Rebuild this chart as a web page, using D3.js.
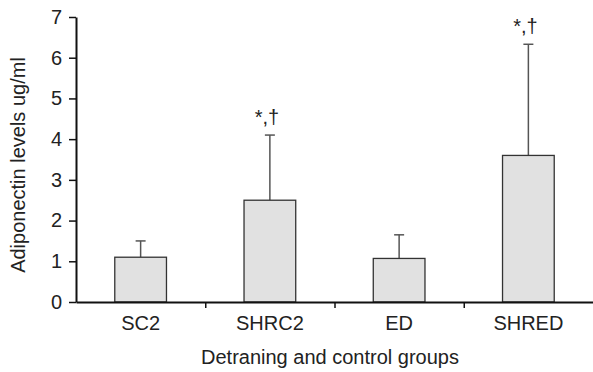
<!DOCTYPE html>
<html>
<head>
<meta charset="utf-8">
<script src="https://cdn.jsdelivr.net/npm/d3@7"></script>
<style>
  body { margin: 0; background: #fff; }
  text { font-family: "Liberation Sans", Arial, sans-serif; fill: #222; }
</style>
</head>
<body>
<svg width="593" height="372"></svg>
<script>
var groups = ["SC2", "SHRC2", "ED", "SHRED"];
var means = [1.1, 2.5, 1.07, 3.6];
var errTops = [1.5, 4.1, 1.65, 6.33];
var marks = ["", "*,\u2020", "", "*,\u2020"];
var yTicks = [0, 1, 2, 3, 4, 5, 6, 7];

var svg = d3.select("svg"),
    margin = { left: 76, right: 593, top: 17, bottom: 302 },
    fs = "20px";

var x = d3.scaleBand().domain(groups).range([margin.left, margin.right])
    .paddingInner(0.6).paddingOuter(0.3);
var y = d3.scaleLinear().domain([0, 7]).range([margin.bottom, margin.top]);
var sep = d3.scaleLinear().domain([0, groups.length]).range([margin.left, margin.right]);

var data = groups.map(function (g, i) {
    return { g: g, v: means[i], e: errTops[i], m: marks[i] };
});

function cx(d) { return x(d.g) + x.bandwidth() / 2; }

// error bars (drawn first so bar covers the lower part)
var eb = svg.append("g");
eb.selectAll("line.stem").data(data).enter().append("line")
    .attr("x1", cx).attr("x2", cx)
    .attr("y1", function (d) { return y(d.v); })
    .attr("y2", function (d) { return y(d.e); })
    .attr("stroke", "#555").attr("stroke-width", 1.5);
eb.selectAll("line.cap").data(data).enter().append("line")
    .attr("x1", function (d) { return cx(d) - 5; })
    .attr("x2", function (d) { return cx(d) + 5; })
    .attr("y1", function (d) { return y(d.e); })
    .attr("y2", function (d) { return y(d.e); })
    .attr("stroke", "#555").attr("stroke-width", 1.5);

svg.selectAll(".bar").data(data).enter().append("rect")
    .attr("class", "bar")
    .attr("x", function (d) { return x(d.g); })
    .attr("y", function (d) { return y(d.v); })
    .attr("width", x.bandwidth())
    .attr("height", function (d) { return margin.bottom - y(d.v); })
    .attr("fill", "#e1e1e1")
    .attr("stroke", "#333").attr("stroke-width", 1.3);

svg.selectAll(".mark").data(data).enter().append("text")
    .attr("x", function (d) { return cx(d) - 3; })
    .attr("y", function (d) { return y(d.e) - 11; })
    .attr("text-anchor", "middle")
    .style("font-size", fs)
    .text(function (d) { return d.m; });

// y axis
var ya = svg.append("g")
    .attr("transform", "translate(" + margin.left + ",0)")
    .call(d3.axisLeft(y).tickValues(yTicks).tickFormat(d3.format("d"))
        .tickSize(7).tickPadding(7).tickSizeOuter(0));
ya.select(".domain").attr("stroke", "#111").attr("stroke-width", 2);
ya.selectAll(".tick line").attr("stroke", "#111").attr("stroke-width", 1.5);
ya.selectAll(".tick text").style("font-size", fs).attr("fill", "#222")
    .style("font-family", "Liberation Sans, Arial, sans-serif");

// x axis: group separators and labels
var xs = svg.append("g")
    .attr("transform", "translate(0," + margin.bottom + ")")
    .call(d3.axisBottom(sep).tickValues([1, 2, 3]).tickFormat("").tickSize(6).tickSizeOuter(0));
xs.select(".domain").attr("stroke", "#111").attr("stroke-width", 2);
xs.selectAll(".tick line").attr("stroke", "#111").attr("stroke-width", 1.5);

var xl = svg.append("g")
    .attr("transform", "translate(0," + margin.bottom + ")")
    .call(d3.axisBottom(x).tickSize(0).tickPadding(14));
xl.select(".domain").remove();
xl.selectAll(".tick text").style("font-size", fs).attr("fill", "#222")
    .style("font-family", "Liberation Sans, Arial, sans-serif");

svg.append("text")
    .attr("x", 330)
    .attr("y", 364)
    .attr("text-anchor", "middle")
    .style("font-size", fs)
    .text("Detraning and control groups");

svg.append("text")
    .attr("transform", "translate(25,165) rotate(-90)")
    .attr("text-anchor", "middle")
    .style("font-size", fs)
    .text("Adiponectin levels ug/ml");
</script>
</body>
</html>
